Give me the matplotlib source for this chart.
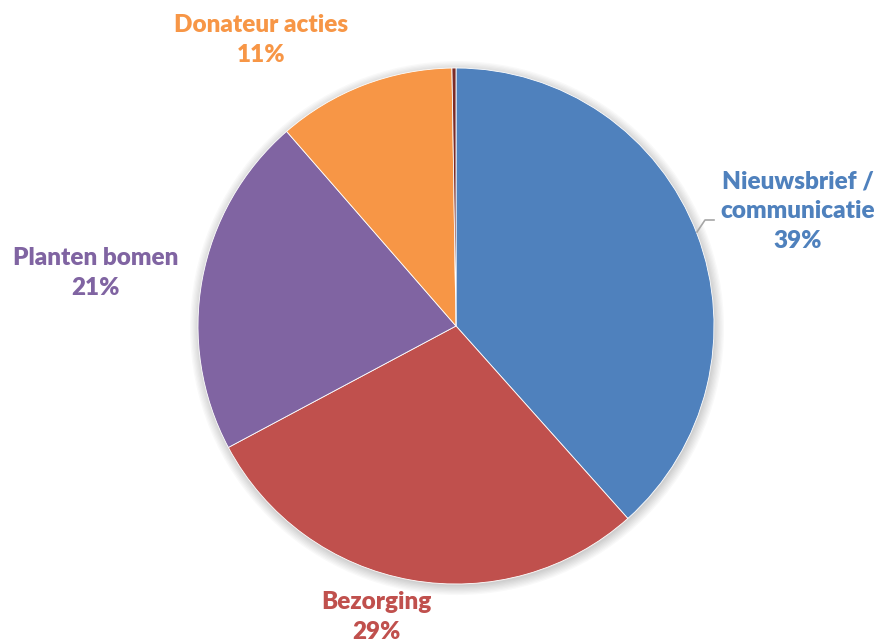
import numpy as np
import matplotlib
matplotlib.use('Agg')
import matplotlib.pyplot as plt
from matplotlib.patches import Circle

labels = ["Nieuwsbrief /\ncommunicatie", "Bezorging", "Planten bomen", "Donateur acties", ""]
values = [38.4, 28.8, 21.4, 11.15, 0.25]
pct_text = ["39%", "29%", "21%", "11%", ""]
colors = ["#4F81BD", "#C0504D", "#8064A2", "#F79646", "#7B2C28"]

W, H = 879, 643
cx, cy, R = 456, 326, 258  # pie centre / radius in pixels


def px(x, y):
    # pixel position -> data coords (radius 1)
    return (x - cx) / R, (cy - y) / R


fig = plt.figure(figsize=(W / 100, H / 100), dpi=100)
ax = fig.add_axes([0, 0, 1, 1])
ax.axis('off')

# soft shadow around the pie
for i in range(8):
    ax.add_patch(Circle((0.004, -0.008), 1.0 + i * 0.005, color='black',
                        alpha=0.025, lw=0, zorder=0))

ax.pie(values, colors=colors, startangle=90, counterclock=False, radius=1,
       wedgeprops=dict(edgecolor='white', linewidth=0.6), center=(0, 0))
ax.set_xlim(-cx / R, (W - cx) / R)
ax.set_ylim((cy - H) / R, cy / R)
ax.set_aspect('auto')

font = dict(family=['Lato', 'DejaVu Sans'], fontweight='heavy', fontsize=17.5)
label_pos = [(798, 211), (376, 617), (96, 273), (261, 40)]
for (x, y), lab, pct, col in zip(label_pos, labels, pct_text, colors):
    tx, ty = px(x, y)
    ax.text(tx, ty, lab + "\n" + pct, ha='center', va='center', color=col,
            linespacing=1.42, **font)

# leader line for Nieuwsbrief label
lx, ly = zip(px(697, 232), px(705, 220), px(714, 220))
ax.plot(lx, ly, color='#A6A6A6', lw=1.2)

fig.savefig('out.png', dpi=100)
